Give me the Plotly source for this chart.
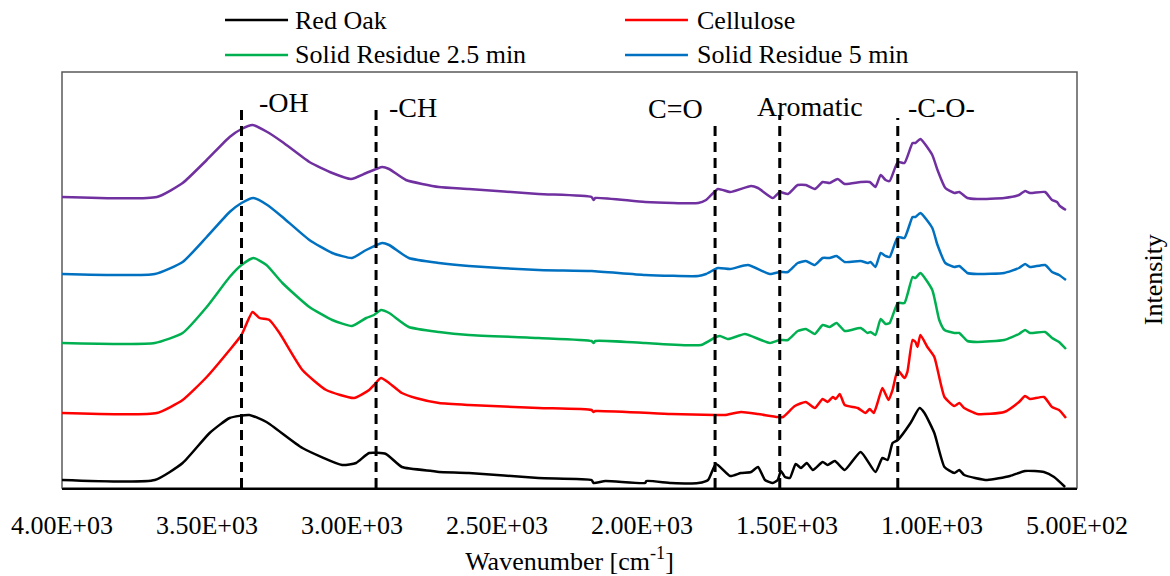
import plotly.graph_objects as go

# ---------------- data ----------------
red_oak_wn = [4000, 3680, 3584, 3491, 3422, 3354, 3295, 3171, 3034, 2986, 2941, 2883, 2828, 2724, 2700,
              2597, 2357, 2174, 2167, 2126, 1989, 1985, 1899, 1806, 1772, 1745, 1696, 1659, 1624, 1600,
              1576, 1549, 1532, 1521, 1507, 1490, 1470, 1452, 1432, 1411, 1377, 1360, 1335, 1301, 1246,
              1195, 1171, 1153, 1136, 1118, 1074, 1043, 1026, 992, 957, 923, 906, 889, 810, 731, 679,
              614, 579, 541]
red_oak_int = [8, 8, 25, 55, 70, 73, 66, 40, 23, 25, 35, 34, 21, 17, 16,
               15, 10, 8, 5, 7, 5, 7, 5, 5, 8, 24, 12, 15, 16, 21,
               8, 5, 8, 17, 11, 10, 24, 20, 25, 18, 26, 23, 27, 18, 36,
               16, 30, 28, 45, 48, 65, 80, 75, 55, 21, 15, 18, 13, 8, 12, 17,
               16, 11, 1]

cellulose_wn = [4000, 3673, 3584, 3501, 3422, 3381, 3343, 3319, 3285, 3250, 3171, 3089, 2993, 2941, 2924,
                2900, 2872, 2828, 2780, 2700, 2597, 2357, 2174, 2167, 2161, 1899, 1748, 1714, 1659, 1600,
                1532, 1514, 1473, 1435, 1404, 1377, 1360, 1342, 1332, 1318, 1301, 1256, 1229, 1215, 1201,
                1188, 1171, 1150, 1136, 1118, 1095, 1085, 1067, 1057, 1050, 1040, 1016, 992, 957, 923,
                906, 889, 844, 751, 700, 679, 662, 614, 586, 562, 538]
cellulose_int = [75, 75, 88, 111, 138, 153, 176, 170, 168, 155, 118, 98, 90, 98, 103,
                 110, 105, 95, 90, 85, 83, 80, 78, 76, 77, 74, 73, 73, 76, 74,
                 71, 71, 82, 86, 80, 89, 86, 91, 89, 94, 83, 80, 75, 79, 75,
                 85, 100, 88, 98, 118, 110, 116, 148, 146, 141, 153, 141, 131, 91, 82,
                 85, 80, 74, 76, 86, 92, 89, 91, 81, 78, 70]

sr25_wn = [4000, 3680, 3584, 3501, 3422, 3381, 3340, 3295, 3240, 3147, 3068, 3000, 2951, 2924, 2900,
           2872, 2804, 2700, 2597, 2357, 2174, 2167, 2161, 1989, 1796, 1745, 1731, 1703, 1669, 1645,
           1559, 1525, 1497, 1463, 1435, 1404, 1377, 1353, 1329, 1301, 1246, 1222, 1212, 1195, 1177,
           1160, 1146, 1118, 1095, 1067, 1057, 1040, 999, 975, 957, 923, 906, 878, 844, 751, 700,
           679, 662, 610, 586, 562, 538]
sr25_int = [145, 145, 155, 181, 211, 223, 230, 223, 205, 181, 168, 162, 170, 173, 178,
            175, 161, 156, 153, 150, 147, 145, 147, 145, 143, 151, 152, 149, 152, 154,
            145, 148, 148, 157, 159, 154, 163, 161, 165, 157, 160, 155, 156, 153, 169,
            164, 165, 185, 185, 211, 210, 215, 198, 168, 158, 155, 155, 147, 146, 148, 154,
            158, 155, 156, 150, 146, 139]

sr5_wn = [4000, 3680, 3584, 3501, 3422, 3381, 3340, 3292, 3240, 3147, 3068, 3000, 2951, 2896, 2872,
          2804, 2700, 2597, 2357, 2174, 1989, 1806, 1779, 1738, 1696, 1635, 1559, 1525, 1497, 1463,
          1435, 1404, 1377, 1353, 1329, 1301, 1246, 1222, 1212, 1195, 1177, 1160, 1146, 1118, 1095,
          1067, 1057, 1040, 999, 981, 954, 923, 906, 878, 844, 751, 700, 679, 662, 610, 586, 562, 538]
sr5_int = [214, 214, 226, 251, 276, 285, 290, 283, 271, 248, 235, 230, 238, 245, 243,
           230, 225, 222, 218, 217, 213, 212, 214, 220, 219, 223, 214, 216, 216, 225,
           227, 223, 230, 230, 232, 226, 227, 225, 226, 221, 235, 232, 231, 251, 250,
           271, 271, 275, 260, 243, 225, 221, 222, 215, 214, 215, 220, 224, 221, 223, 216, 213, 208]

purple_wn = [4000, 3673, 3584, 3501, 3422, 3381, 3343, 3292, 3240, 3147, 3068, 3003, 2951, 2896, 2872,
             2814, 2700, 2597, 2357, 2174, 2167, 2161, 1989, 1806, 1779, 1738, 1696, 1624, 1600, 1549,
             1525, 1497, 1463, 1435, 1404, 1377, 1353, 1325, 1301, 1246, 1215, 1195, 1177, 1160, 1146,
             1118, 1095, 1067, 1057, 1040, 999, 981, 954, 923, 906, 878, 844, 751, 700, 679, 662, 610,
             586, 569, 559, 538]
purple_int = [291, 291, 305, 328, 351, 359, 363, 356, 346, 326, 315, 309, 315, 321, 319,
              308, 301, 299, 294, 291, 288, 290, 286, 285, 288, 299, 296, 302, 300, 290,
              296, 294, 303, 303, 299, 306, 305, 309, 304, 306, 306, 301, 313, 308, 307,
              326, 325, 345, 345, 349, 333, 318, 300, 295, 296, 290, 289, 290, 293, 297, 295, 296,
              288, 286, 282, 278]

series_names = ["Red Oak", "Cellulose", "Solid Residue 2.5 min", "Solid Residue 5 min", "Solid Residue (purple)"]
series_colors = ["#000000", "#FF0000", "#00B050", "#0070C0", "#7030A0"]
series_wn = [red_oak_wn, cellulose_wn, sr25_wn, sr5_wn, purple_wn]
series_int = [red_oak_int, cellulose_int, sr25_int, sr5_int, purple_int]
legend_count = 4

x_tick_vals = [4000, 3500, 3000, 2500, 2000, 1500, 1000, 500]
x_tick_text = ["4.00E+03", "3.50E+03", "3.00E+03", "2.50E+03", "2.00E+03", "1.50E+03", "1.00E+03", "5.00E+02"]

band_labels = ["-OH", "-CH", "C=O", "Aromatic", "-C-O-"]
band_lines_wn = [3381, 2917, 1748, 1525, 1118]
band_lines_top = [382, 380, 366, 373, 370]
band_label_wn = [3235, 2790, 1883, 1421, 966]
band_label_y = [386, 381, 380, 382, 381]

FONT = "Liberation Serif, Times New Roman, serif"

fig = go.Figure()
for name, color, wn, inten in zip(series_names, series_colors, series_wn, series_int):
    fig.add_trace(go.Scatter(x=wn, y=inten, mode="lines", name=name, showlegend=False,
                             line=dict(color=color, width=2.5, shape="spline", smoothing=0.5)))

shapes = []
shapes.append(dict(type="rect", xref="paper", yref="paper", x0=0, x1=1, y0=0, y1=1,
                   line=dict(color="#595959", width=1.5), layer="below"))
for wn, top in zip(band_lines_wn, band_lines_top):
    shapes.append(dict(type="line", xref="x", yref="y", x0=wn, x1=wn, y0=0, y1=top,
                       line=dict(color="black", width=3, dash="10px,6px")))

annotations = []
for lab, wn, yy in zip(band_labels, band_label_wn, band_label_y):
    annotations.append(dict(x=wn, y=yy, xref="x", yref="y", text=lab, showarrow=False,
                            font=dict(family=FONT, size=28, color="black"),
                            xanchor="center", yanchor="middle"))

leg_cols = [(0.1606, 0.2227, 0.2276), (0.5547, 0.6167, 0.6236)]
leg_rows = [1.125, 1.041]
for i in range(legend_count):
    r, c = divmod(i, 2)
    x0, x1, xt = leg_cols[c]
    yy = leg_rows[r]
    shapes.append(dict(type="line", xref="paper", yref="paper", x0=x0, x1=x1, y0=yy, y1=yy,
                       line=dict(color=series_colors[i], width=2.5)))
    annotations.append(dict(x=xt, y=yy, xref="paper", yref="paper", text=series_names[i],
                            showarrow=False, xanchor="left", yanchor="middle",
                            font=dict(family=FONT, size=26, color="black")))

annotations.append(dict(x=1.075, y=0.5, xref="paper", yref="paper", text="Intensity",
                        textangle=-90, showarrow=False, xanchor="center", yanchor="middle",
                        font=dict(family=FONT, size=26, color="black")))

fig.update_layout(
    width=1170, height=576,
    margin=dict(l=62, r=93, t=72, b=88),
    paper_bgcolor="white", plot_bgcolor="white",
    font=dict(family=FONT, size=26, color="black"),
    shapes=shapes, annotations=annotations,
    xaxis=dict(range=[4000, 500], tickvals=x_tick_vals, ticktext=x_tick_text, automargin=False,
               showgrid=False, zeroline=False, showline=True, linecolor="black", linewidth=2,
               ticks="", ticklabelstandoff=13,
               tickfont=dict(family=FONT, size=26, color="black"),
               title=dict(text="Wavenumber [cm<sup>-1</sup>]", standoff=14,
                          font=dict(family=FONT, size=26, color="black"))),
    yaxis=dict(range=[0, 416], showticklabels=False, showgrid=False, zeroline=False,
               showline=False, ticks="", automargin=False),
)

fig.write_html("out.html")
